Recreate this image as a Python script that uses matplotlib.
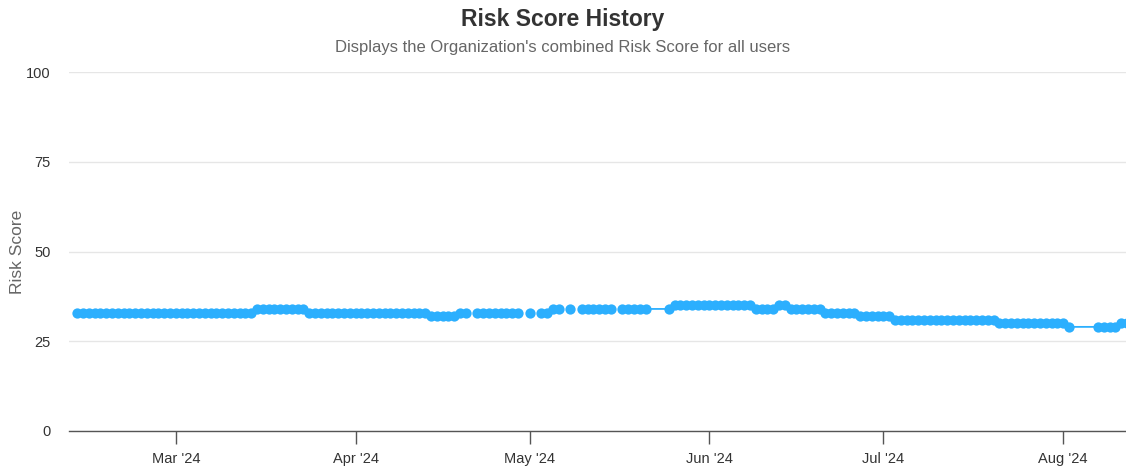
import numpy as np
import pandas as pd
import matplotlib
matplotlib.use("Agg")
import matplotlib.pyplot as plt

plt.rcParams['font.family'] = ['Liberation Sans', 'DejaVu Sans']

# runs of equal daily scores: (first day, last day, score)
seg_start = ['2024-02-13', '2024-03-15', '2024-03-24', '2024-04-14', '2024-04-19',
             '2024-04-22', '2024-05-01', '2024-05-03', '2024-05-05', '2024-05-08',
             '2024-05-10', '2024-05-17', '2024-05-25', '2024-05-26', '2024-06-09',
             '2024-06-13', '2024-06-15', '2024-06-21', '2024-06-27', '2024-07-03',
             '2024-07-21', '2024-08-02', '2024-08-07', '2024-08-11']
seg_end = ['2024-03-14', '2024-03-23', '2024-04-13', '2024-04-18', '2024-04-20',
           '2024-04-29', '2024-05-01', '2024-05-04', '2024-05-06', '2024-05-08',
           '2024-05-15', '2024-05-21', '2024-05-25', '2024-06-08', '2024-06-12',
           '2024-06-14', '2024-06-20', '2024-06-26', '2024-07-02', '2024-07-20',
           '2024-08-01', '2024-08-02', '2024-08-10', '2024-08-12']
seg_score = [33, 34, 33, 32, 33,
             33, 33, 33, 34, 34,
             34, 34, 34, 35, 34,
             35, 34, 33, 32, 31,
             30, 29, 29, 30]

# days reported without a score (line is broken there)
null_days = ['2024-04-21', '2024-04-30', '2024-05-02', '2024-05-07', '2024-05-09', '2024-05-16']

month_ticks = ['2024-03-01', '2024-04-01', '2024-05-01', '2024-06-01', '2024-07-01', '2024-08-01']
month_labels = ["Mar '24", "Apr '24", "May '24", "Jun '24", "Jul '24", "Aug '24"]
y_ticks = [0, 25, 50, 75, 100]

parts = []
for s, e, v in zip(seg_start, seg_end, seg_score):
    days = pd.date_range(s, e, freq='D')
    parts.append(pd.Series([float(v)] * len(days), index=days))
parts.append(pd.Series([np.nan] * len(null_days), index=pd.to_datetime(null_days)))
series = pd.concat(parts).sort_index()

fig = plt.figure(figsize=(11.26, 4.71), dpi=100)
ax = fig.add_axes([0.0613, 0.085, 0.9387, 0.762])

ax.plot(series.index, series.values, color='#2caffe', linewidth=1.3,
        marker='o', markersize=7.4, markeredgewidth=0, zorder=3)

ax.set_ylim(0, 100)
ax.set_xlim(pd.Timestamp('2024-02-11 14:00'), pd.Timestamp('2024-08-11 20:00'))
ax.set_yticks(y_ticks)
ax.set_yticklabels([str(t) for t in y_ticks])
ax.set_xticks(pd.to_datetime(month_ticks))
ax.set_xticklabels(month_labels)

ax.grid(axis='y', color='#e6e6e6', linewidth=1)
ax.set_axisbelow(True)
for side in ['top', 'right', 'left']:
    ax.spines[side].set_visible(False)
ax.spines['bottom'].set_color('#555555')
ax.spines['bottom'].set_linewidth(1)
ax.tick_params(axis='x', length=9, width=1, color='#555555', labelcolor='#333333',
               labelsize=10.5, pad=6)
ax.tick_params(axis='y', length=0, labelcolor='#333333', labelsize=10.5, pad=13)

ax.set_ylabel('Risk Score', color='#666666', fontsize=12.5)
ax.yaxis.set_label_coords(-0.0492, 0.5)
ax.yaxis.label.set_va('center')

fig.text(0.5, 0.958, 'Risk Score History', ha='center', va='center',
         fontsize=16.5, fontweight='bold', color='#333333')
fig.text(0.5, 0.899, "Displays the Organization's combined Risk Score for all users",
         ha='center', va='center', fontsize=12, color='#666666')

fig.savefig('out.png', dpi=100)
